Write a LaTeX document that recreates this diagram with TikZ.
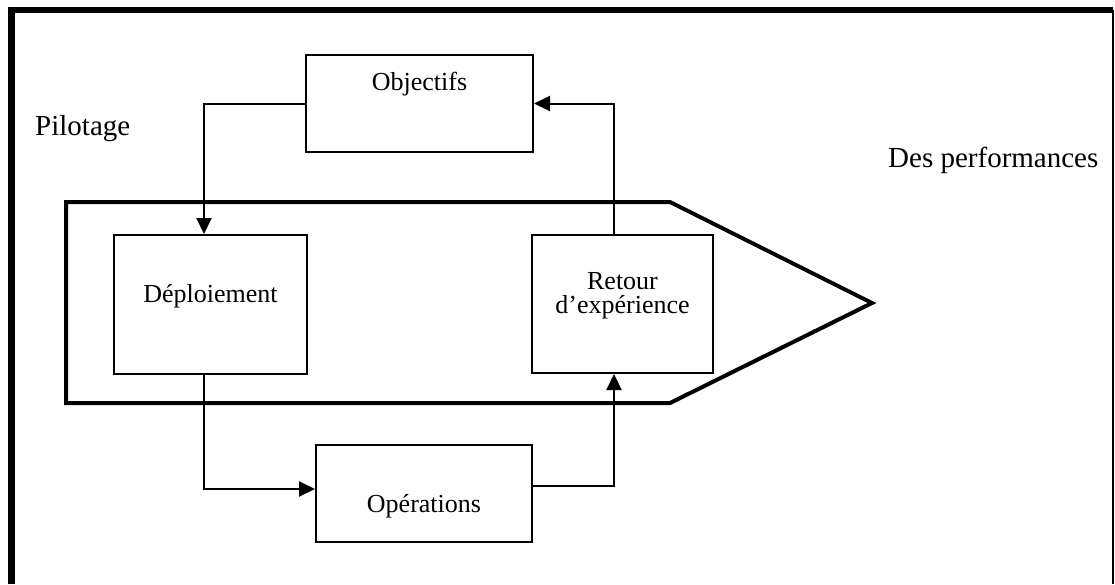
\documentclass[tikz,border=0pt]{standalone}
\usepackage{fontspec}
\setmainfont{Liberation Serif}
\usepackage{tikz}
\usetikzlibrary{arrows.meta,positioning}
\tikzset{
  boite/.style={rectangle,draw,line width=2pt,inner sep=0pt},
  fleche/.style={line width=2pt,-{Triangle[length=16pt,width=15pt]}},
  titre/.style={anchor=base west,inner sep=0pt,font=\fontsize{29}{34}\selectfont},
  texte/.style={anchor=base,inner sep=0pt,align=center,font=\fontsize{26}{24}\selectfont},
}

\begin{document}
\begin{tikzpicture}[x=1pt,y=-1pt]
      \useasboundingbox (0,0) rectangle (1115,584);
      \draw[line width=6.5pt] (11.5,584) -- (11.5,10) -- (1113,10);
      \draw[line width=2.5pt] (1113,10) -- (1113,584);
      \draw[line width=4pt] (66,202) -- (670,202) -- (872,303) -- (670,403) -- (66,403) -- cycle;

      \node[boite,minimum width=227,minimum height=97] (O) at (419.5,103.5) {};
      \node[boite,minimum width=193,minimum height=139] (D) at (210.5,304.5) {};
      \node[boite,minimum width=181,minimum height=138] (R) at (622.5,304) {};
      \node[boite,minimum width=216,minimum height=97] (P) at (424,493.5) {};

      \node[texte] (tO) at (419.5,90) {Objectifs};
      \node[texte] (tD) at (210.5,302) {Déploiement};
      \node[texte] (tR) at (622.5,313) {Retour\\d’expérience};
      \node[texte] (tP) at (424,512) {Opérations};
      \node[titre] (pil) at (35,135) {Pilotage};
      \node[titre] (perf) at (888,167) {Des performances};

      \draw[fleche] (O.west) -| ([xshift=-6.5pt]D.north);
      \draw[fleche] ([xshift=-6.5pt]D.south) |- ([yshift=4.5pt]P.west);
      \draw[fleche] ([yshift=7.5pt]P.east) -| ([xshift=-8.5pt]R.south);
      \draw[fleche] ([xshift=-8.5pt]R.north) |- (O.east);
    \end{tikzpicture}
\end{document}
